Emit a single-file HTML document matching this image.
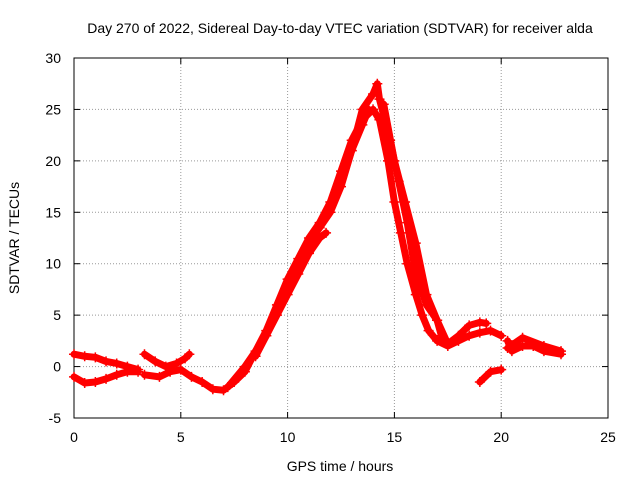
<!DOCTYPE html>
<html><head><meta charset="utf-8"><style>
body{margin:0;background:#fff}
svg{display:block;font-family:"Liberation Sans",sans-serif}
</style></head><body>
<svg id="chart" width="640" height="480" viewBox="0 0 640 480">
<rect width="640" height="480" fill="#fff"/>
<text x="340" y="33" font-size="14" text-anchor="middle">Day 270 of 2022, Sidereal Day-to-day VTEC variation (SDTVAR) for receiver alda</text>
<g id="grid"></g>
<g id="axes"></g>
<g id="series"></g>
<text x="340" y="471" font-size="14" text-anchor="middle">GPS time / hours</text>
<text transform="translate(19,238) rotate(-90)" font-size="14" text-anchor="middle">SDTVAR / TECUs</text>
</svg>
<script>
const xTicks=[0,5,10,15,20,25];
const yTicks=[-5,0,5,10,15,20,25,30];
const track1T=[0,0.5,1,1.5,2,2.5,3];
const track1V=[1.2,1,0.9,0.5,0.3,0,-0.3];
const track2T=[0,0.5,1,1.5,2,2.5,3];
const track2V=[-1,-1.6,-1.5,-1.2,-0.8,-0.5,-0.5];
const track3T=[3.3,3.8,4.3,4.8,5.2,5.4];
const track3V=[1.2,0.5,0,0.3,0.8,1.2];
const track4T=[3.3,4,4.5,5,5.5,6,6.5,7,7.5,8,8.5,9,9.5,10,10.5,11,11.5,12,12.5,13,13.5,14,14.3,14.7,15,15.3,15.6,16,16.3,16.6,17,17.5,18,18.5,19,19.5,20];
const track4V=[-0.8,-1,-0.5,-0.3,-1,-1.5,-2.2,-2.3,-1.5,-0.5,1.5,3.5,6,8.5,10.5,12.5,14,16,19,22,24,25,24,20,16,13,10,7,5,3.5,2.5,2,2.5,3,3.3,3.5,3];
const track5T=[7.2,8,9,9.5,10,10.5,11,11.5,11.8];
const track5V=[-2,0,3,5,7,9,11,12.5,13];
const track6T=[12.5,13,13.5,14,14.2,14.3,14.8,15.2,15.6,16,16.5,17,17.5,18,18.5,19,19.3];
const track6V=[18,21,25,26.5,27.5,26,22,18,14,9,6,4.5,2.2,3,4,4.3,4.2];
const track7T=[19,19.5,20];
const track7V=[-1.5,-0.5,-0.3];
const track8T=[20.3,20.5,21,21.5,22,22.8];
const track8V=[2.5,1.5,2,2,1.5,1.2];
const track9T=[20.3,21,22,22.8];
const track9V=[1.8,2.8,2,1.5];
const track10T=[14.5,15,15.5,16,16.5,17,17.2];
const track10V=[25.5,20,16,12,7,4.5,3];
const track11T=[8.5,9,9.5,10,10.5,11,11.5,12,12.5,13,13.5,13.8];
const track11V=[1,3,5.5,8,10,12,13.5,15,17.5,21,23.5,25];
const tracks=[[track1T,track1V],[track2T,track2V],[track3T,track3V],[track4T,track4V],[track5T,track5V],[track6T,track6V],[track7T,track7V],[track8T,track8V],[track9T,track9V],[track10T,track10V],[track11T,track11V]];
const X0=74,X1=608,Y0=418,Y1=58;
const xs=v=>X0+(v-0)/25*(X1-X0);
const ys=v=>Y0-(v+5)/35*(Y0-Y1);
const NS="http://www.w3.org/2000/svg";
function mk(tag,at,parent){const e=document.createElementNS(NS,tag);for(const k in at)e.setAttribute(k,at[k]);parent.appendChild(e);return e;}
const grid=document.getElementById('grid'),axes=document.getElementById('axes'),ser=document.getElementById('series');
xTicks.forEach(t=>{
  if(t>0&&t<25){const l=mk('line',{x1:xs(t),x2:xs(t),y1:Y1,y2:Y0,stroke:'#999','stroke-dasharray':'1,2','stroke-width':1},grid);
  
  }
  const tx=mk('text',{x:xs(t),y:Y0+24,'font-size':14,'text-anchor':'middle'},axes);tx.textContent=t;
  
  
  mk('line',{x1:xs(t),x2:xs(t),y1:Y0,y2:Y0-6,stroke:'#000'},axes);
  mk('line',{x1:xs(t),x2:xs(t),y1:Y1,y2:Y1+6,stroke:'#000'},axes);
});
yTicks.forEach(t=>{
  if(t>-5&&t<30){const l=mk('line',{x1:X0,x2:X1,y1:ys(t),y2:ys(t),stroke:'#999','stroke-dasharray':'1,2','stroke-width':1},grid);
  
  }
  const tx=mk('text',{x:X0-13,y:ys(t)+5,'font-size':14,'text-anchor':'end'},axes);tx.textContent=t;
  
  
  mk('line',{x1:X0,x2:X0+6,y1:ys(t),y2:ys(t),stroke:'#000'},axes);
  mk('line',{x1:X1,x2:X1-6,y1:ys(t),y2:ys(t),stroke:'#000'},axes);
});
mk('rect',{x:X0,y:Y1,width:X1-X0,height:Y0-Y1,fill:'none',stroke:'#000'},axes);
tracks.forEach(([T,V])=>{
  const pts=T.map((t,i)=>xs(t)+','+ys(V[i])).join(' ');
  const pl=mk('polyline',{points:pts,fill:'none',stroke:'#f00','stroke-width':7,'stroke-linejoin':'round','stroke-linecap':'round'},ser);
  
  
  T.forEach((t,i)=>{
    const x=xs(t),y=ys(V[i]);
    const p=mk('path',{d:`M${x-5},${y}H${x+5}M${x},${y-5}V${y+5}`,stroke:'#f00','stroke-width':1.5},ser);
    
    
  });
});
</script>
</body></html>
